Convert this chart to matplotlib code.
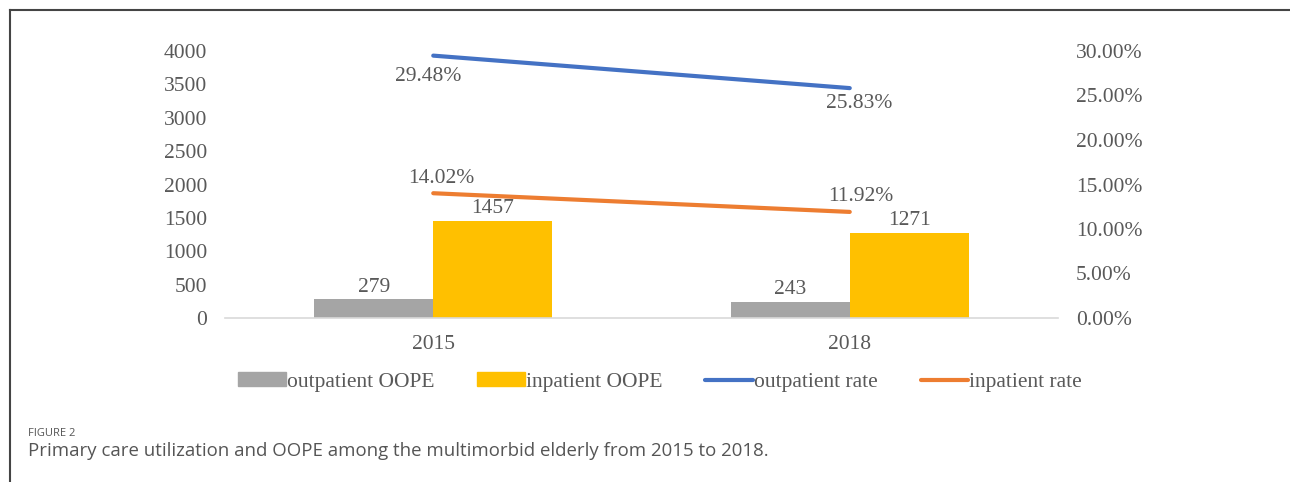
import matplotlib.pyplot as plt
from matplotlib.lines import Line2D
from matplotlib.patches import Patch
import numpy as np

years = ['2015', '2018']
outpatient_oope = [279, 243]
inpatient_oope = [1457, 1271]
outpatient_rate = [0.2948, 0.2583]
inpatient_rate = [0.1402, 0.1192]

GRAY = '#A5A5A5'
YELLOW = '#FFC000'
BLUE = '#4472C4'
ORANGE = '#ED7D31'
TXT = '#595959'

plt.rcParams['font.family'] = ['Liberation Serif', 'DejaVu Serif']
plt.rcParams['font.size'] = 15.5

W, H = 1290, 482
fig = plt.figure(figsize=(W / 100, H / 100), dpi=100)

# plot area in pixels: x 225..1058, y 51..318
ax = fig.add_axes([225 / W, 1 - 318 / H, (1058 - 225) / W, (318 - 51) / H])
x = np.arange(len(years))
bw = 0.286
b1 = ax.bar(x - bw / 2, outpatient_oope, bw, color=GRAY, label='outpatient OOPE')
b2 = ax.bar(x + bw / 2, inpatient_oope, bw, color=YELLOW, label='inpatient OOPE')
ax.set_xlim(-0.5, len(years) - 0.5)
ax.set_ylim(0, 4000)
ax.set_yticks(range(0, 4001, 500))
ax.set_xticks(x)
ax.set_xticklabels(years)
for s in ['top', 'left', 'right']:
    ax.spines[s].set_visible(False)
ax.spines['bottom'].set_color('#D9D9D9')
ax.spines['bottom'].set_linewidth(1.2)
ax.tick_params(length=0, colors=TXT, labelsize=15.5)
ax.tick_params(axis='y', pad=13)
ax.tick_params(axis='x', pad=12)

for bars, vals in [(b1, outpatient_oope), (b2, inpatient_oope)]:
    for r, v in zip(bars, vals):
        ax.annotate(str(v), (r.get_x() + r.get_width() / 2, v), xytext=(0, 2),
                    textcoords='offset points', ha='center', va='bottom', color=TXT)

ax2 = ax.twinx()
ax2.plot(x, outpatient_rate, color=BLUE, lw=3, solid_capstyle='round', label='outpatient rate')
ax2.plot(x, inpatient_rate, color=ORANGE, lw=3, solid_capstyle='round', label='inpatient rate')
ax2.set_ylim(0, 0.30)
ax2.set_yticks(np.arange(0, 0.301, 0.05))
ax2.set_yticklabels(['%.2f%%' % (t * 100) for t in np.arange(0, 0.301, 0.05)])
for s in ['top', 'left', 'right', 'bottom']:
    ax2.spines[s].set_visible(False)
ax2.tick_params(length=0, colors=TXT, labelsize=15.5, pad=13)
for lab in ax2.get_yticklabels():
    lab.set_horizontalalignment('left')

# rate labels: blue below, orange above
for xi, v, dx, dy in zip(x, outpatient_rate, [-4, 7], [-8, -4]):
    ax2.annotate('%.2f%%' % (v * 100), (xi, v), xytext=(dx, dy), textcoords='offset points',
                 ha='center', va='top', color=TXT)
for xi, v, dx in zip(x, inpatient_rate, [6, 8]):
    ax2.annotate('%.2f%%' % (v * 100), (xi, v), xytext=(dx, 4), textcoords='offset points',
                 ha='center', va='bottom', color=TXT)

handles = [Patch(color=GRAY), Patch(color=YELLOW),
           Line2D([], [], color=BLUE, lw=3, solid_capstyle='round'),
           Line2D([], [], color=ORANGE, lw=3, solid_capstyle='round')]
labels = ['outpatient OOPE', 'inpatient OOPE', 'outpatient rate', 'inpatient rate']
leg = fig.legend(handles, labels, loc='center', bbox_to_anchor=(660 / W, 1 - 382 / H), ncol=4,
                 frameon=False, handlelength=2.2, handleheight=0.6, handletextpad=0.05,
                 columnspacing=2.0, labelcolor=TXT, fontsize=15.5)

# figure frame
fig.add_artist(Line2D([10 / W, 1], [1 - 10 / H, 1 - 10 / H], color='#444444', lw=1.5))
fig.add_artist(Line2D([10 / W, 10 / W], [0, 1 - 10 / H], color='#444444', lw=1.5))

fig.text(28 / W, 1 - 433 / H, 'FIGURE 2', family='Open Sans', fontsize=8, color='#555555',
         va='center', ha='left')
fig.text(28 / W, 1 - 451 / H, 'Primary care utilization and OOPE among the multimorbid elderly from 2015 to 2018.',
         family='Open Sans', fontsize=13.4, color='#555555', va='center', ha='left')

fig.savefig('out.png', dpi=100)
